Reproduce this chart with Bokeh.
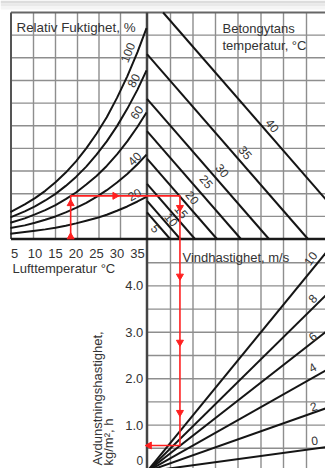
import numpy as np
from bokeh.plotting import figure
from bokeh.models import Range1d
from bokeh.core.properties import value
from bokeh.embed import file_html
from bokeh.resources import INLINE

# ---------------- data ----------------
air_temp = [4.0, 7.5, 10.0, 12.5, 15.0, 17.5, 20.0, 22.5, 25.0, 27.5, 30.0, 32.5, 35.0, 37.2]
rh_100 = [0.81, 1.04, 1.23, 1.45, 1.71, 2.00, 2.34, 2.73, 3.17, 3.67, 4.25, 4.90, 5.63, 6.35]
rh_80 = [0.65, 0.83, 0.98, 1.16, 1.36, 1.60, 1.87, 2.18, 2.54, 2.94, 3.40, 3.92, 4.50, 5.08]
rh_60 = [0.49, 0.62, 0.74, 0.87, 1.02, 1.20, 1.40, 1.64, 1.90, 2.20, 2.55, 2.94, 3.38, 3.81]
rh_40 = [0.33, 0.41, 0.49, 0.58, 0.68, 0.80, 0.94, 1.09, 1.27, 1.47, 1.70, 1.96, 2.25, 2.54]
rh_20 = [0.16, 0.21, 0.25, 0.29, 0.34, 0.40, 0.47, 0.55, 0.63, 0.73, 0.85, 0.98, 1.13, 1.27]
rh_labels = ["100", "80", "60", "40", "20"]
temp_ticks = [5, 10, 15, 20, 25, 30, 35]

concrete_temps = [5, 10, 15, 20, 25, 30, 35, 40]
concrete_vp = [0.80, 1.15, 1.66, 2.42, 3.25, 4.22, 5.57, 7.38]

wind_speeds = [0, 2, 4, 6, 8, 10]
wind_evap_at_6_5 = [0.55, 1.43, 2.29, 3.16, 3.99, 4.95]

evap_ticks = [1, 2, 3, 4]
evap_tick_labels = ["1.0", "2.0", "3.0", "4.0"]
evap_grid = [0.5, 1.0, 1.5, 2.0, 2.5, 3.0, 3.5, 4.0, 4.5]

example_air_temp = 18.7
example_vp = 1.30
example_vpd = 1.14
example_evap = 0.56

# ---------------- layout (pixels) ----------------
W, H = 325, 468
X_LEFT, X_DIV, Y_TOP, Y_BASE = 10.5, 146.5, 12.0, 238.5
T_REF_PX, T_REF, PX_PER_C = 14.0, 5.0, 4.1
VP_PX = 33.2        # px per kPa (vertical)
VPD_PX = 28.9       # px per kPa (horizontal, right panels)
Y_EVAP0, EVAP_PX = 471.0, 46.4

FONT = value("Liberation Sans")
TXT = "#333333"
CURVE = "#151515"
GRID = "#8e8e8e"
RED = "#ff2020"

p = figure(width=W, height=H, x_range=Range1d(0, W), y_range=Range1d(H, 0),
           toolbar_location=None, output_backend="svg", min_border=0,
           x_axis_location=None, y_axis_location=None)
p.grid.visible = False
p.outline_line_color = None
p.background_fill_color = "white"
p.border_fill_color = "white"

p.extra_x_ranges = {
    "temp": Range1d(T_REF - T_REF_PX / PX_PER_C, T_REF + (W - T_REF_PX) / PX_PER_C),
    "vpd": Range1d(-X_DIV / VPD_PX, (W - X_DIV) / VPD_PX),
}
p.extra_y_ranges = {
    "vp": Range1d((Y_BASE - H) / VP_PX, Y_BASE / VP_PX),
    "evap": Range1d((Y_EVAP0 - H) / EVAP_PX, Y_EVAP0 / EVAP_PX),
}
vp_top = (Y_BASE - Y_TOP) / VP_PX

# soft shadow at the very top
for y0, y1, c in [(0, 3, "#dcdcdc"), (3, 6, "#e9e9e9"), (6, 9, "#f4f4f4")]:
    p.quad(left=0, right=W, top=y0, bottom=y1, fill_color=c, line_color=None)

# ---------------- grid ----------------
vgrid_left = [33, 55, 77, 98.5, 120]
vgrid_right = [170, 192.5, 215, 237.5, 260.5, 283, 306]
hgrid_top = [Y_TOP + k * (Y_BASE - Y_TOP) / 10 for k in range(1, 10)]
p.segment(x0=vgrid_left, x1=vgrid_left, y0=Y_TOP, y1=Y_BASE, line_color=GRID, line_width=1.4)
p.segment(x0=vgrid_right, x1=vgrid_right, y0=Y_TOP, y1=H, line_color=GRID, line_width=1.4)
p.segment(x0=X_LEFT, x1=W, y0=hgrid_top, y1=hgrid_top, line_color=GRID, line_width=1.4)
p.segment(x0=0, x1=10, y0=evap_grid, y1=evap_grid, x_range_name="vpd", y_range_name="evap",
          line_color=GRID, line_width=1.4)

# ---------------- frame ----------------
p.line([X_LEFT, W], [Y_TOP, Y_TOP], line_color="#666666", line_width=2)
p.line([X_LEFT, X_LEFT], [Y_TOP, Y_BASE], line_color="#555555", line_width=2)
p.line([X_DIV, X_DIV], [Y_TOP, H], line_color="#444444", line_width=2.5)
p.line([X_LEFT, W], [Y_BASE, Y_BASE], line_color="#1a1a1a", line_width=2.5)

# ---------------- relative humidity curves ----------------
for ys in [rh_100, rh_80, rh_60, rh_40, rh_20]:
    p.line(air_temp, ys, x_range_name="temp", y_range_name="vp",
           line_color=CURVE, line_width=2, line_join="round")

rh_lab_x = [127, 133, 136, 134, 134]
rh_lab_y = [52, 80, 112, 158, 194]
rh_lab_a = [68, 62, 56, 46, 28]
p.text(rh_lab_x, rh_lab_y, text=rh_labels, angle=np.radians(rh_lab_a),
       text_align="center", text_baseline="middle", text_font=FONT,
       text_font_size="12px", text_color=TXT)

# ---------------- concrete temperature lines ----------------
cx0 = [max(0.0, v - vp_top) for v in concrete_vp]
cy0 = [v - x for v, x in zip(concrete_vp, cx0)]
p.segment(x0=cx0, y0=cy0, x1=concrete_vp, y1=[0] * len(concrete_vp),
          x_range_name="vpd", y_range_name="vp", line_color=CURVE, line_width=2)
c_lab_x = [155, 171, 181, 192, 206, 222, 245, 272]
c_lab_y = [228, 219, 211, 197, 181, 170, 152, 125]
p.text(c_lab_x, c_lab_y, text=[str(t) for t in concrete_temps], angle=np.radians(-50),
       text_align="center", text_baseline="middle", text_font=FONT,
       text_font_size="12px", text_color=TXT)

# ---------------- wind speed lines ----------------
p.segment(x0=[0] * len(wind_speeds), y0=[0] * len(wind_speeds),
          x1=[6.5] * len(wind_speeds), y1=wind_evap_at_6_5,
          x_range_name="vpd", y_range_name="evap", line_color=CURVE, line_width=2)
w_lab_x = [314, 313, 312, 312, 312, 310]
w_lab_y = [440, 406, 367, 336, 298, 258]
w_lab_a = [6, 18, 30, 38, 46, 55]
p.text(w_lab_x, w_lab_y, text=[str(v) for v in wind_speeds], angle=np.radians(w_lab_a),
       text_align="center", text_baseline="middle", text_font=FONT,
       text_font_size="12px", text_color=TXT)

# ---------------- texts ----------------
p.text([16], [27], text=["Relativ Fuktighet, %"], text_font=FONT, text_font_size="13.4px",
       text_color=TXT, text_baseline="alphabetic")
p.text([222, 222], [28, 45], text=["Betongytans", "temperatur, °C"], text_font=FONT,
       text_font_size="13px", text_color=TXT, text_baseline="alphabetic")
p.text([182], [257], text=["Vindhastighet, m/s"], text_font=FONT, text_font_size="13px",
       text_color=TXT, text_baseline="alphabetic")
p.text(temp_ticks, [253] * len(temp_ticks), text=[str(t) for t in temp_ticks],
       x_range_name="temp", text_align="center", text_baseline="alphabetic",
       text_font=FONT, text_font_size="13px", text_color=TXT)
p.text([12], [268], text=["Lufttemperatur °C"], text_font=FONT, text_font_size="13px",
       text_color=TXT, text_baseline="alphabetic")
p.text([-0.13] * len(evap_ticks), evap_ticks, text=evap_tick_labels,
       x_range_name="vpd", y_range_name="evap", text_align="right", text_baseline="middle",
       text_font=FONT, text_font_size="13px", text_color=TXT)
# the "0" tick sits on the lower edge; keep it inside the window
p.text([-0.13], [0], text=["0"], x_range_name="vpd", y_range_name="evap",
       text_align="right", text_baseline="bottom", y_offset=-7,
       text_font=FONT, text_font_size="12px", text_color=TXT)
p.text([96.5, 107.5], [465, 465], text=["Avdunstningshastighet,", "kg/m², h"],
       angle=np.pi / 2, text_align="left", text_baseline="middle",
       text_font=FONT, text_font_size="13px", text_color=TXT)

# ---------------- worked example (red) ----------------
t_div = p.extra_x_ranges["temp"].start + X_DIV / PX_PER_C
evap_top = (Y_EVAP0 - Y_BASE) / EVAP_PX
p.line([example_air_temp, example_air_temp, t_div], [0, example_vp, example_vp],
       x_range_name="temp", y_range_name="vp", line_color=RED, line_width=1.6)
p.line([0, example_vpd, example_vpd], [example_vp, example_vp, 0],
       x_range_name="vpd", y_range_name="vp", line_color=RED, line_width=1.6)
p.line([example_vpd, example_vpd, 0], [evap_top, example_evap, example_evap],
       x_range_name="vpd", y_range_name="evap", line_color=RED, line_width=1.6)

up_f = [0.05, 0.82]
p.scatter([example_air_temp] * 2, [example_vp * f for f in up_f], marker="triangle",
          x_range_name="temp", y_range_name="vp", size=7, color=RED)
p.scatter([example_air_temp + 0.58 * (t_div - example_air_temp)], [example_vp],
          marker="triangle", angle=-np.pi / 2, x_range_name="temp", y_range_name="vp",
          size=7, color=RED)
p.scatter([example_vpd], [example_vp * 0.73], marker="inverted_triangle",
          x_range_name="vpd", y_range_name="vp", size=7, color=RED)
down_f = [0.18, 0.50, 0.84]
p.scatter([example_vpd] * 3, [evap_top - f * (evap_top - example_evap) for f in down_f],
          marker="inverted_triangle", x_range_name="vpd", y_range_name="evap", size=7, color=RED)
p.scatter([0.08], [example_evap], marker="triangle", angle=np.pi / 2,
          x_range_name="vpd", y_range_name="evap", size=7, color=RED)

open("out.html", "w").write(file_html(p, INLINE))
